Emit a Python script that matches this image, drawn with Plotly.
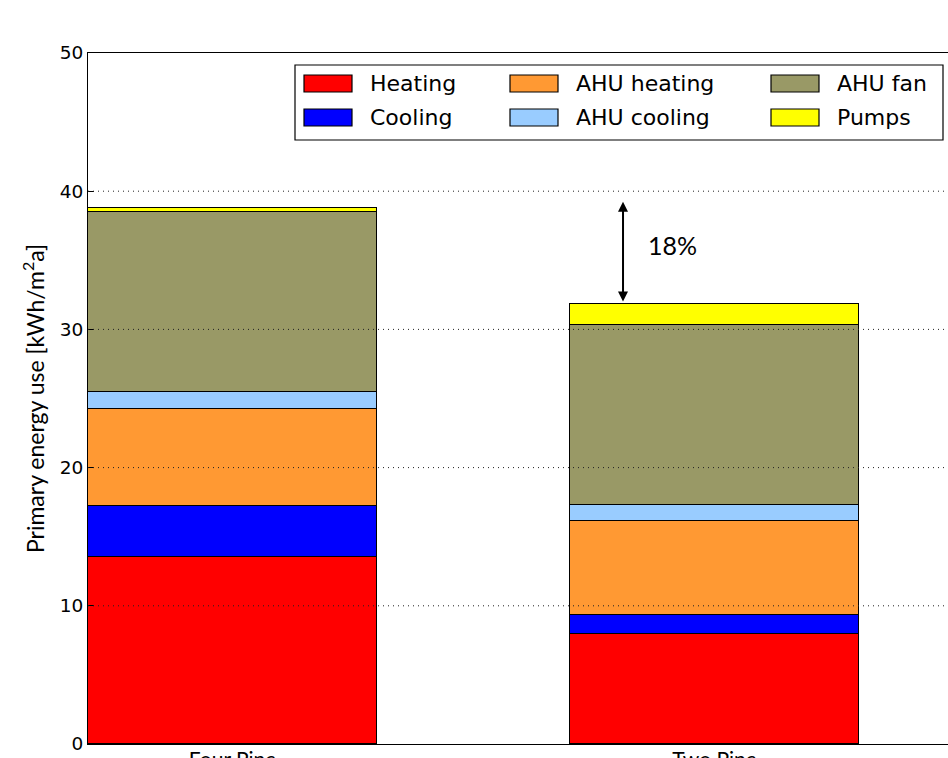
import plotly.graph_objects as go

# Configurations compared on the x axis
systems = ["Four Pipe", "Two Pipe"]

# Primary energy use per end use [kWh/m2a], stacked bottom to top
heating = [13.55, 7.96]
cooling = [3.67, 1.37]
ahu_heating = [7.02, 6.83]
ahu_cooling = [1.21, 1.13]
ahu_fan = [13.04, 13.03]
pumps = [0.27, 1.49]

series_names = ["Heating", "Cooling", "AHU heating", "AHU cooling", "AHU fan", "Pumps"]
series_values = [heating, cooling, ahu_heating, ahu_cooling, ahu_fan, pumps]
series_colors = ["#ff0000", "#0000ff", "#ff9933", "#99ccff", "#999966", "#ffff00"]

y_ticks = [0, 10, 20, 30, 40, 50]

W, H = 948, 758
ML, MR, MT, MB = 88, 0, 53, 14
PW, PH = W - ML - MR, H - MT - MB

fig = go.Figure()
xs = list(range(len(systems)))
for name, vals, col in zip(series_names, series_values, series_colors):
    fig.add_trace(go.Bar(
        x=xs, y=vals, name=name, width=0.6,
        marker=dict(color=col, line=dict(color="black", width=1.3)),
        showlegend=False,
    ))

# Dotted horizontal grid drawn over the bars
for v in y_ticks[1:-1]:
    fig.add_shape(type="line", xref="paper", yref="y", x0=0, x1=1, y0=v, y1=v,
                  line=dict(color="#222222", width=1, dash="1px,4px"), layer="above")


def px_to_paper(px, py):
    return (px - ML) / PW, (H - MB - py) / PH


# Legend panel: box, colour patches and labels
bx0, by0 = px_to_paper(295, 140)
bx1, by1 = px_to_paper(943, 65)
fig.add_shape(type="rect", xref="paper", yref="paper", x0=bx0, y0=by0, x1=bx1, y1=by1,
              line=dict(color="black", width=1.2), fillcolor="white", layer="above")
col_x = [304, 510, 771]
row_y = [(75, 92), (109, 126)]
for i, (name, col) in enumerate(zip(series_names, series_colors)):
    c, r = divmod(i, 2)
    sx0, sy0 = px_to_paper(col_x[c], row_y[r][1])
    sx1, sy1 = px_to_paper(col_x[c] + 48, row_y[r][0])
    fig.add_shape(type="rect", xref="paper", yref="paper", x0=sx0, y0=sy0, x1=sx1, y1=sy1,
                  line=dict(color="black", width=1.2), fillcolor=col, layer="above")
    tx, ty = px_to_paper(col_x[c] + 64, (row_y[r][0] + row_y[r][1]) / 2)
    fig.add_annotation(xref="paper", yref="paper", x=tx, y=ty, text=name, showarrow=False,
                       xanchor="left", yanchor="middle",
                       font=dict(family="DejaVu Sans", size=22, color="black"))

# Reduction of Two Pipe total relative to Four Pipe
total_four = sum(v[0] for v in series_values)
total_two = sum(v[1] for v in series_values)
reduction = round((total_four - total_two) / total_four * 100)
arrow_x = 0.81
fig.add_annotation(x=arrow_x, y=total_two + 0.2, ax=arrow_x, ay=39.35,
                   xref="x", yref="y", axref="x", ayref="y", text="",
                   showarrow=True, arrowhead=2, arrowside="end+start",
                   arrowsize=1, arrowwidth=2, arrowcolor="black")
fig.add_annotation(x=0.912, y=36.1, xref="x", yref="y", text=f"{reduction}%",
                   showarrow=False, font=dict(family="Lato", size=25, color="black"))

fig.update_layout(
    width=W, height=H,
    margin=dict(l=ML, r=MR, t=MT, b=MB, autoexpand=False),
    barmode="stack", bargap=0,
    plot_bgcolor="white", paper_bgcolor="white",
    xaxis=dict(range=[-0.3, -0.3 + PW / 482], tickvals=xs, ticktext=systems,
               showline=True, linecolor="black", linewidth=1.2, mirror=True,
               showgrid=False, zeroline=False, ticks="", ticklabelstandoff=-3,
               tickfont=dict(family="Lato", size=21, color="black")),
    yaxis=dict(range=[0, 50], tickvals=y_ticks, showline=True, linecolor="black",
               linewidth=1.2, showgrid=False, zeroline=False,
               ticks="inside", ticklen=6, tickcolor="black",
               tickfont=dict(family="DejaVu Sans", size=18.5, color="black"),
               title=dict(text="Primary energy use [kWh/m<sup>2</sup>a]", standoff=8,
                          font=dict(family="Lato", size=23, color="black"))),
)

fig.write_html("out.html")
